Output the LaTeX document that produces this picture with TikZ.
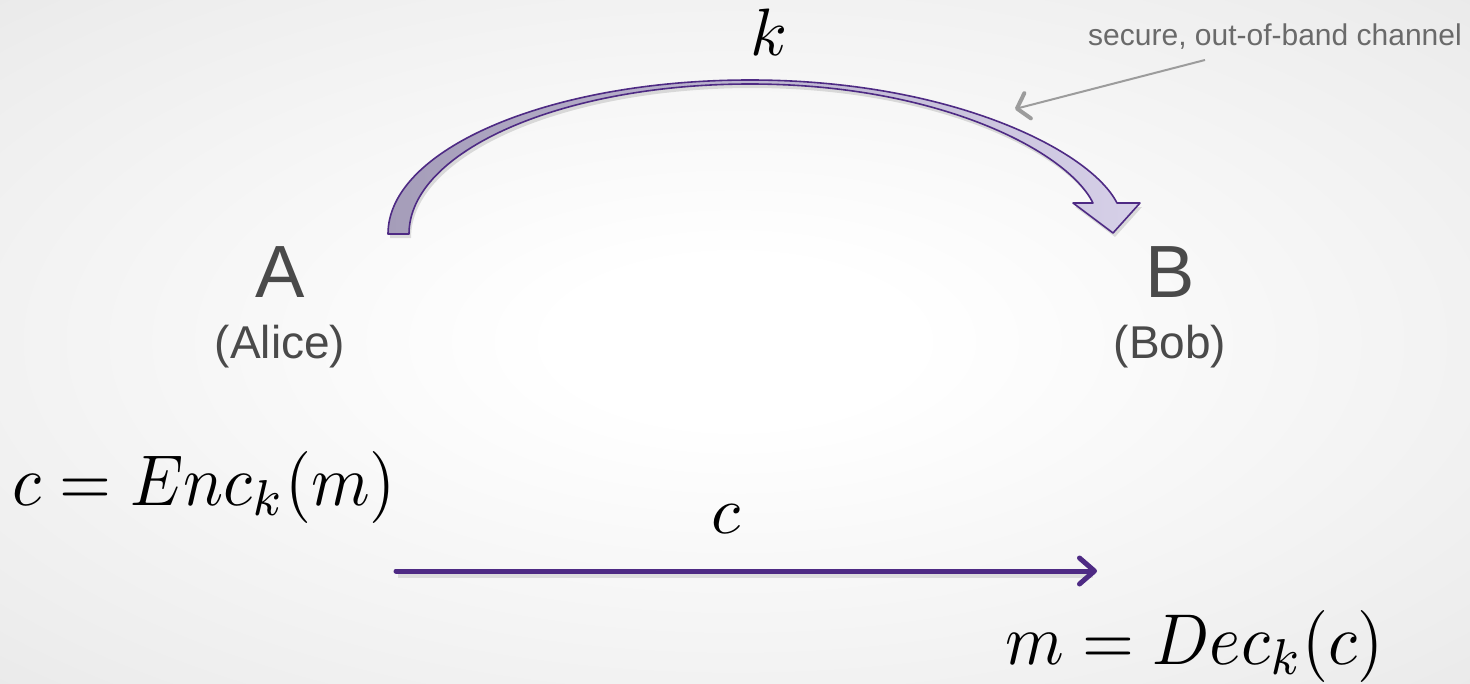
\documentclass[tikz,border=0pt]{standalone}
\usepackage{graphicx}
\usepackage{fontspec}
\setsansfont{Liberation Sans}
\usetikzlibrary{arrows.meta}
\definecolor{pur}{HTML}{4E2A84}
\definecolor{txtgray}{HTML}{4A4A4A}
\definecolor{notegray}{HTML}{6A6A6A}
\definecolor{arrgray}{HTML}{9C9C9C}
\definecolor{fillA}{HTML}{A59DB9}
\definecolor{fillB}{HTML}{D6D0E8}
\pgfdeclareradialshading{bgshade}{\pgfpoint{0bp}{0bp}}{color(0bp)=(white); color(6bp)=(white); color(32bp)=(black!7); color(50bp)=(black!13)}
\newcommand{\largemathbox}[1]{\scalebox{6.68}[7.2]{\fontsize{10}{12}\selectfont$#1$}}
\newcommand{\medmathbox}[1]{\scalebox{6.7}{\fontsize{10}{12}\selectfont$#1$}}
\tikzset{
  party/.style={font=\sffamily\fontsize{74}{80}\selectfont, text=txtgray, inner sep=0pt, anchor=base},
  pname/.style={font=\sffamily\fontsize{46}{50}\selectfont, text=txtgray, inner sep=0pt, anchor=base},
  bigmath/.style={inner sep=0pt, anchor=base west},
  midmath/.style={inner sep=0pt, anchor=base},
  note/.style={font=\sffamily\fontsize{30}{34}\selectfont, text=notegray, inner sep=0pt, anchor=base east},
  msgarrow/.style={draw=pur, line width=5pt, line cap=round,
    -{Straight Barb[length=15pt,width=26pt,line cap=round,line join=round]}},
  notearrow/.style={draw=arrgray, line width=2pt,
    -{Straight Barb[length=11pt,width=26pt,line width=4pt,line cap=round,line join=round]}},
}
\begin{document}
\begin{tikzpicture}[x=1pt,y=-1pt]
\useasboundingbox (0,0) rectangle (1470,683);
\shade[shading=bgshade] (0,0) rectangle (1470,683);
% secure channel (curved block arrow): soft shadow, then the arrow
\begin{scope}[shift={(2,4)}]
\path[fill=black, opacity=0.12] (388,234) .. controls (388,149) and (550,80) .. (750,80)
  .. controls (950,80) and (1090,150) .. (1117,203)
  -- (1140,203) -- (1113,233) -- (1073,203) -- (1093,203)
  .. controls (1068,152) and (940,84) .. (750,84)
  .. controls (562,84) and (409,151) .. (409,234) -- cycle;
\end{scope}
\path[left color=fillA, right color=fillB, draw=pur, line width=1.6pt, line join=round]
  (388,234) .. controls (388,149) and (550,80) .. (750,80)
  .. controls (950,80) and (1090,150) .. (1117,203)
  -- (1140,203) -- (1113,233) -- (1073,203) -- (1093,203)
  .. controls (1068,152) and (940,84) .. (750,84)
  .. controls (562,84) and (409,151) .. (409,234) -- cycle;
% labels
\node[midmath] (k) at (769,55) {\medmathbox{k}};
\node[note] (note) at (1462,45) {secure, out-of-band channel};
\coordinate (notefrom) at (1205,60);
\coordinate (noteto) at (1015,109);
\draw[notearrow] (notefrom) -- (noteto);
\node[party] (A) at (280,297) {A};
\node[pname] (alice) at (280,358) {(Alice)};
\node[party] (B) at (1170,297) {B};
\node[pname] (bob) at (1170,358) {(Bob)};
\node[bigmath] (enc) at (12,505) {\largemathbox{c = Enc_k(m)}};
\node[midmath] (c) at (726,533) {\medmathbox{c}};
\node[bigmath] (dec) at (1005,664) {\largemathbox{m = Dec_k(c)}};
% message arrow
\coordinate (msgfrom) at (396,571);
\coordinate (msgto) at (1097,571);
\draw[draw=black, opacity=0.10, line width=6pt] ([shift={(2,4)}]msgfrom) -- ([shift={(-4,4)}]msgto);
\draw[msgarrow] (msgfrom) -- (msgto);
\end{tikzpicture}
\end{document}
